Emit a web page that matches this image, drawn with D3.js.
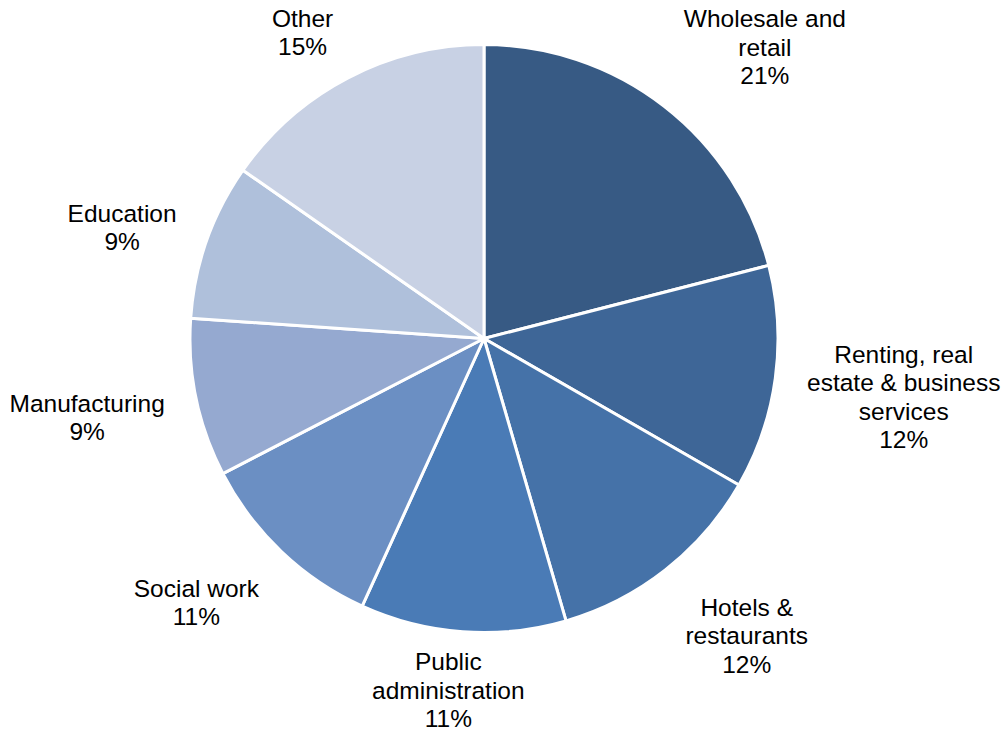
<!DOCTYPE html>
<html lang="en">
  <head>
    <meta charset="UTF-8" />
    <title>Employment by sector</title>
    <style>
      body {
        margin: 0;
        padding: 0;
        background-color: #ffffff;
        font-family: "Liberation Sans", Arial, sans-serif;
      }

      .label text {
        font-size: 24.5px;
        fill: #000000;
        text-anchor: middle;
      }
    </style>
  </head>
  <body>
    <svg id="chart"></svg>

    <script src="https://cdn.jsdelivr.net/npm/d3@7"></script>
    <script>
      // data, clockwise from 12 o'clock
      const sectors = [
        "Wholesale and\nretail",
        "Renting, real\nestate & business\nservices",
        "Hotels &\nrestaurants",
        "Public\nadministration",
        "Social work",
        "Manufacturing",
        "Education",
        "Other",
      ];
      // slice sizes estimated from the slice edges (labels show them rounded)
      const shares = [21.0, 12.3, 12.2, 11.3, 10.6, 8.7, 8.6, 15.3];
      const colours = [
        "#375a84",
        "#3e6697",
        "#4572a8",
        "#4a7bb6",
        "#6b8fc3",
        "#95a9d0",
        "#afc0db",
        "#c8d1e4",
      ];

      const width = 1002;
      const height = 730;
      const cx = 484;
      const cy = 338.5;
      const radius = 294;
      const labelGap = 32;
      const labelDrop = 7;
      const lineHeight = 28.5;

      const svg = d3.select("#chart").attr("width", width).attr("height", height);

      const data = sectors.map((s, i) => ({ name: s, value: shares[i], colour: colours[i] }));

      const pie = d3
        .pie()
        .sort(null)
        .value((d) => d.value);

      const arc = d3.arc().innerRadius(0).outerRadius(radius);

      const arcs = pie(data);

      const g = svg.append("g").attr("transform", `translate(${cx},${cy})`);

      g.selectAll("path")
        .data(arcs)
        .enter()
        .append("path")
        .attr("d", arc)
        .attr("fill", (d) => d.data.colour)
        .attr("stroke", "#ffffff")
        .attr("stroke-width", 3)
        .attr("stroke-linejoin", "round");

      // labels sit just outside the rim, pushed away along the mid angle
      const labels = g
        .selectAll(".label")
        .data(arcs)
        .enter()
        .append("g")
        .classed("label", true);

      const text = labels.append("text");

      text.each(function (d) {
        const lines = d.data.name.split("\n").concat([Math.round(d.data.value) + "%"]);
        const t = d3.select(this);
        lines.forEach((line, i) => {
          t.append("tspan")
            .attr("x", 0)
            .attr("y", (i - (lines.length - 1) / 2) * lineHeight)
            .attr("dy", "0.35em")
            .text(line);
        });
      });

      const soft = (v) => Math.max(-1, Math.min(1, v * 2.2));

      labels.attr("transform", function (d) {
        const lines = d.data.name.split("\n").length + 1;
        const w = this.getBBox().width;
        const h = lines * lineHeight;
        const a = (d.startAngle + d.endAngle) / 2;
        const sx = Math.sin(a);
        const sy = -Math.cos(a);
        let x = (radius + labelGap) * sx + (soft(sx) * w) / 2;
        let y = (radius + labelGap) * sy + (sy * h) / 2;
        if (sy > -0.5) y += labelDrop; // side and bottom labels sit a touch lower
        // keep the box inside the picture
        const top = -cy + 4;
        const bottom = height - cy + 3;
        if (y - h / 2 < top) y = top + h / 2;
        if (y + h / 2 > bottom) y = bottom - h / 2;
        return `translate(${x},${y})`;
      });
    </script>
  </body>
</html>
